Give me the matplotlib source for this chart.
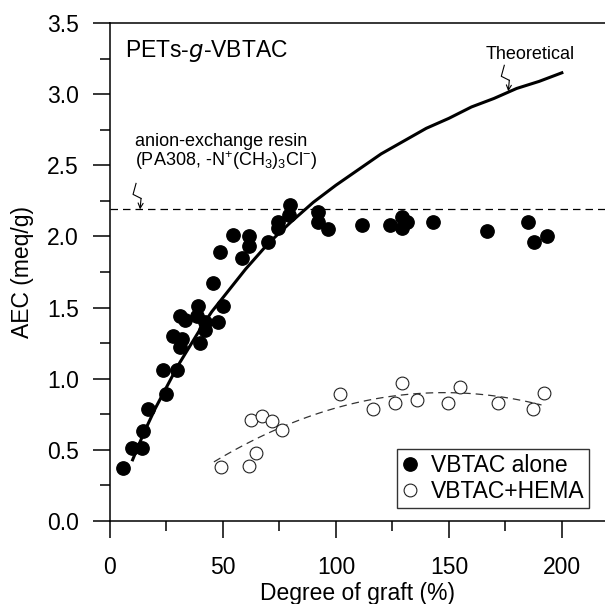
import numpy as np
import matplotlib
matplotlib.use("Agg")
import matplotlib.pyplot as plt
from matplotlib.ticker import MultipleLocator, FormatStrFormatter

plt.rcParams['font.family'] = ['Liberation Sans', 'DejaVu Sans']
plt.rcParams['mathtext.default'] = 'regular'

# VBTAC alone (filled circles)
dg_alone = [5.9, 9.6, 14.0, 14.7, 17.0, 23.6, 24.8, 29.8, 28.0, 31.7, 31.0, 31.0,
            33.2, 39.8, 39.1, 38.4, 42.1, 42.1, 47.9, 50.2, 45.7, 48.7, 54.6, 61.7,
            61.7, 58.3, 70.1, 74.5, 74.5, 79.7, 79.4, 92.2, 92.2, 96.7, 111.4, 124.0,
            129.1, 131.3, 129.1, 143.1, 167.0, 185.2, 187.8, 193.3]
aec_alone = [0.37, 0.51, 0.51, 0.63, 0.79, 1.06, 0.89, 1.06, 1.30, 1.28, 1.22, 1.44,
             1.41, 1.25, 1.51, 1.44, 1.34, 1.40, 1.40, 1.51, 1.67, 1.89, 2.01, 2.00,
             1.93, 1.85, 1.96, 2.10, 2.06, 2.22, 2.15, 2.17, 2.10, 2.05, 2.08, 2.08,
             2.14, 2.10, 2.06, 2.10, 2.04, 2.10, 1.96, 2.00]

# VBTAC+HEMA (open circles)
dg_hema = [49.1, 61.4, 64.7, 62.6, 67.3, 71.8, 76.3, 101.8, 116.4, 126.0, 129.3,
           136.0, 149.8, 154.7, 171.8, 187.4, 192.1]
aec_hema = [0.38, 0.39, 0.48, 0.71, 0.74, 0.70, 0.64, 0.89, 0.79, 0.83, 0.97,
            0.85, 0.83, 0.94, 0.83, 0.79, 0.90]

# theoretical AEC curve
dg_theo = [10, 15, 20, 25, 30, 35, 40, 45, 50, 60, 70, 80, 90, 100, 110, 120, 130,
           140, 150, 160, 170, 180, 190, 200]
aec_theo = [0.43, 0.62, 0.79, 0.94, 1.09, 1.22, 1.35, 1.47, 1.57, 1.77, 1.95, 2.10,
            2.24, 2.36, 2.47, 2.58, 2.67, 2.76, 2.83, 2.91, 2.97, 3.04, 3.09, 3.15]

resin_aec = 2.19

fig = plt.figure(figsize=(6.05, 6.04), dpi=100)
ax = fig.add_axes([110/605, 83/604, 495/605, 498/604])

ax.plot(dg_theo, aec_theo, color='black', lw=2.2, zorder=3, solid_joinstyle='round')
ax.axhline(resin_aec, color='black', lw=0.9, dashes=(6, 4), zorder=2)

# quadratic trend through the VBTAC+HEMA points
coef = np.polyfit(dg_hema, aec_hema, 2)
xs = np.linspace(46, 191, 100)
ax.plot(xs, np.polyval(coef, xs), color='#333333', lw=0.9, dashes=(6, 4), zorder=2)

ax.plot(dg_alone, aec_alone, 'o', ms=9.6, mfc='black', mec='black', lw=0,
        label='VBTAC alone', zorder=4)
ax.plot(dg_hema, aec_hema, 'o', ms=9.2, mfc='white', mec='#222222', mew=0.8, lw=0,
        label='VBTAC+HEMA', zorder=4)

ax.set_xlim(0, 219.1)
ax.set_ylim(0, 3.5)
ax.xaxis.set_major_locator(MultipleLocator(50))
ax.xaxis.set_minor_locator(MultipleLocator(25))
ax.yaxis.set_major_locator(MultipleLocator(0.5))
ax.yaxis.set_minor_locator(MultipleLocator(0.25))
ax.yaxis.set_major_formatter(FormatStrFormatter('%.1f'))
ax.tick_params(which='major', direction='out', length=12.5, width=1.1, labelsize=16.5)
ax.tick_params(which='minor', direction='out', length=7, width=1.1)
ax.tick_params(axis='x', which='major', pad=13)
ax.tick_params(axis='y', which='major', pad=10)
ax.spines['right'].set_visible(False)
for s in ('left', 'bottom', 'top'):
    ax.spines[s].set_linewidth(1.1)

ax.set_xlabel('Degree of graft (%)', fontsize=16.5, labelpad=2)
ax.set_ylabel('AEC (meq/g)', fontsize=16.5, labelpad=9)

ax.text(0.03, 0.943, 'PETs-$\\it{g}$-VBTAC', transform=ax.transAxes, fontsize=16.5,
        va='center', ha='left')
ax.text(0.05, 0.74, 'anion-exchange resin\n(PA308, -N$^{+}$(CH$_3$)$_3$Cl$^{-}$)',
        transform=ax.transAxes, fontsize=13, va='center', ha='left', linespacing=1.0)
ax.text(0.849, 0.937, 'Theoretical', transform=ax.transAxes, fontsize=13,
        va='center', ha='center')


def bolt(x, y):
    # small zigzag pointer ending in an arrow head at (x, y)
    px, py = ax.transData.transform((x, y))
    offs = [(-4, 26), (-7, 15), (1, 11)]
    pts = ax.transData.inverted().transform([(px + dx, py + dy) for dx, dy in offs])
    ax.plot(pts[:, 0], pts[:, 1], color='black', lw=0.8, zorder=5)
    ax.annotate('', xy=(x, y), xytext=pts[-1],
                arrowprops=dict(arrowstyle='->', lw=0.8, color='black',
                                shrinkA=0, shrinkB=0, mutation_scale=9))


bolt(176.3, 3.02)
bolt(13.3, resin_aec)

leg = ax.legend(loc='lower right', bbox_to_anchor=(0.968, 0.026), borderaxespad=0,
                fontsize=16.5, frameon=True, fancybox=False, handlelength=0.8,
                handletextpad=0.5, borderpad=0.2, labelspacing=0.15)
leg.get_frame().set_edgecolor('black')
leg.get_frame().set_linewidth(1.0)

fig.savefig('out.png', dpi=100)
